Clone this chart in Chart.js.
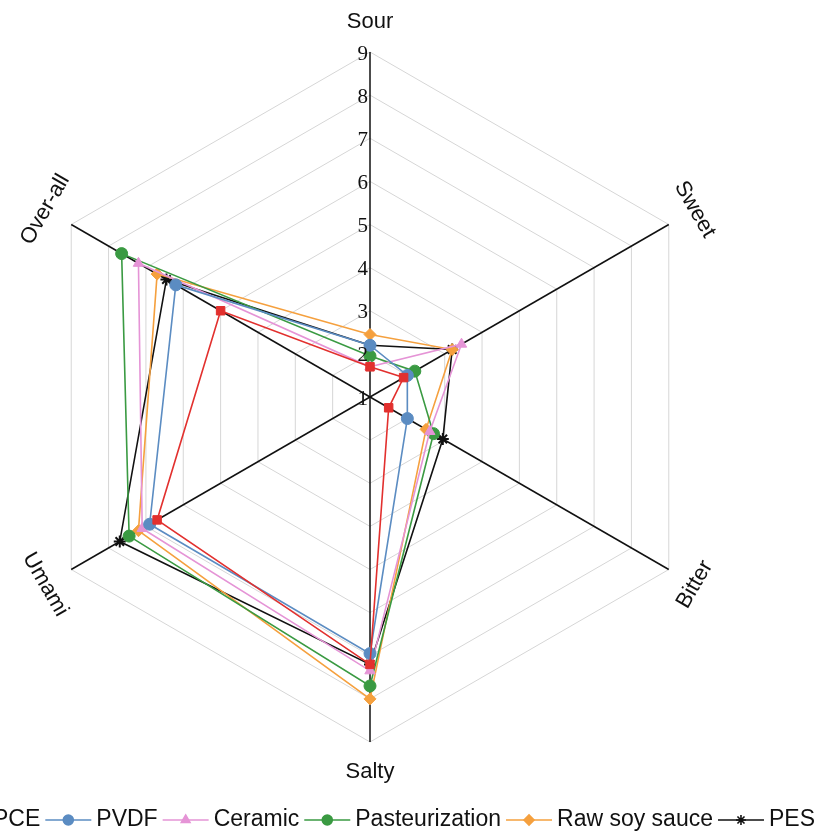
<!DOCTYPE html>
<html><head><meta charset="utf-8">
<script src="https://cdn.jsdelivr.net/npm/chart.js"></script>
<style>
html,body{margin:0;padding:0;overflow:hidden;background:#fff;width:819px;height:835px}
#wrap{position:relative;width:900px;height:835px;margin-left:-80px}
</style></head><body>
<div id="wrap"><canvas id="c"></canvas></div>
<script>
const axes = ['Sour', 'Sweet', 'Bitter', 'Salty', 'Umami', 'Over-all'];
const pce = [1.7, 1.9, 1.5, 7.2, 6.7, 5.0];
const pvdf = [2.2, 2.0, 2.0, 6.95, 6.9, 6.2];
const ceramic = [1.7, 3.45, 2.6, 7.35, 7.1, 7.2];
const pasteur = [1.95, 2.2, 2.7, 7.7, 7.45, 7.65];
const raw = [2.45, 3.2, 2.5, 8.0, 7.2, 6.7];
const pes = [2.2, 3.2, 2.95, 7.2, 7.7, 6.45];
const ticks = [1, 2, 3, 4, 5, 6, 7, 8, 9];

function ds(label, data, color, style) {
    return { label, data, borderColor: color, backgroundColor: color, borderWidth: 1.6,
        fill: false, pointStyle: style, pointRadius: 6, pointBorderWidth: style === 'star' ? 2 : 1,
        pointBackgroundColor: color, pointBorderColor: color };
}

// tick labels left of the Sour axis, rotated axis titles, legend row
const labelsPlugin = {
    id: 'labels',
    afterDraw(chart) {
        const s = chart.scales.r, ctx = chart.ctx;
        ctx.save();
        ctx.fillStyle = '#111';
        ctx.font = '21px "Liberation Serif"';
        ctx.textAlign = 'right';
        ctx.textBaseline = 'middle';
        ticks.forEach(t => {
            const d = s.getDistanceFromCenterForValue(t);
            ctx.fillText(String(t), s.xCenter - 2, s.yCenter - d + 2);
        });
        ctx.font = '22px "Liberation Sans"';
        ctx.textAlign = 'center';
        const rot = [0, 60, -60, 0, 60, -60];
        axes.forEach((a, i) => {
            const p = s.getPointPosition(i, s.drawingArea + 30);
            ctx.save();
            ctx.translate(p.x, p.y);
            ctx.rotate(rot[i] * Math.PI / 180);
            ctx.fillText(a, 0, 0);
            ctx.restore();
        });
        // legend, laid out right to left so that it overflows at the left like the source
        ctx.font = '23px "Liberation Sans"';
        ctx.textAlign = 'left';
        const y = 820, lineW = 46, gap = 5;
        let x = 815 + 80;
        const sets = chart.data.datasets;
        for (let i = sets.length - 1; i >= 0; i--) {
            const d = sets[i];
            const tw = ctx.measureText(d.label).width;
            x -= tw;
            ctx.fillStyle = '#111';
            ctx.fillText(d.label, x, y);
            x -= gap + lineW;
            ctx.strokeStyle = d.borderColor;
            ctx.lineWidth = 1.6;
            ctx.beginPath(); ctx.moveTo(x, y); ctx.lineTo(x + lineW, y); ctx.stroke();
            ctx.fillStyle = d.borderColor;
            Chart.helpers.drawPoint(ctx, { pointStyle: d.pointStyle, radius: 5, borderWidth: d.pointBorderWidth }, x + lineW / 2, y);
            ctx.fill();
            x -= gap;
        }
        ctx.restore();
    }
};

new Chart(document.getElementById('c'), {
    type: 'radar',
    data: {
        labels: axes,
        datasets: [
            ds('PCE', pce, '#e2302e', 'rect'),
            ds('PVDF', pvdf, '#5b8cc2', 'circle'),
            ds('Ceramic', ceramic, '#e594d6', 'triangle'),
            ds('Pasteurization', pasteur, '#3a9a42', 'circle'),
            ds('Raw soy sauce', raw, '#f5a03e', 'rectRot'),
            ds('PES', pes, '#111111', 'star')
        ]
    },
    options: {
        responsive: true,
        maintainAspectRatio: false,
        animation: false,
        layout: { padding: { top: 52, bottom: 92 } },
        plugins: {
            legend: { display: false },
            tooltip: { enabled: false }
        },
        scales: {
            r: {
                min: 1, max: 9,
                ticks: { stepSize: 1, display: false },
                pointLabels: { display: false },
                grid: { color: '#d6d6d6', lineWidth: 1 },
                angleLines: { color: '#111', lineWidth: 1.5 }
            }
        }
    },
    plugins: [labelsPlugin]
});
</script>
</body></html>
